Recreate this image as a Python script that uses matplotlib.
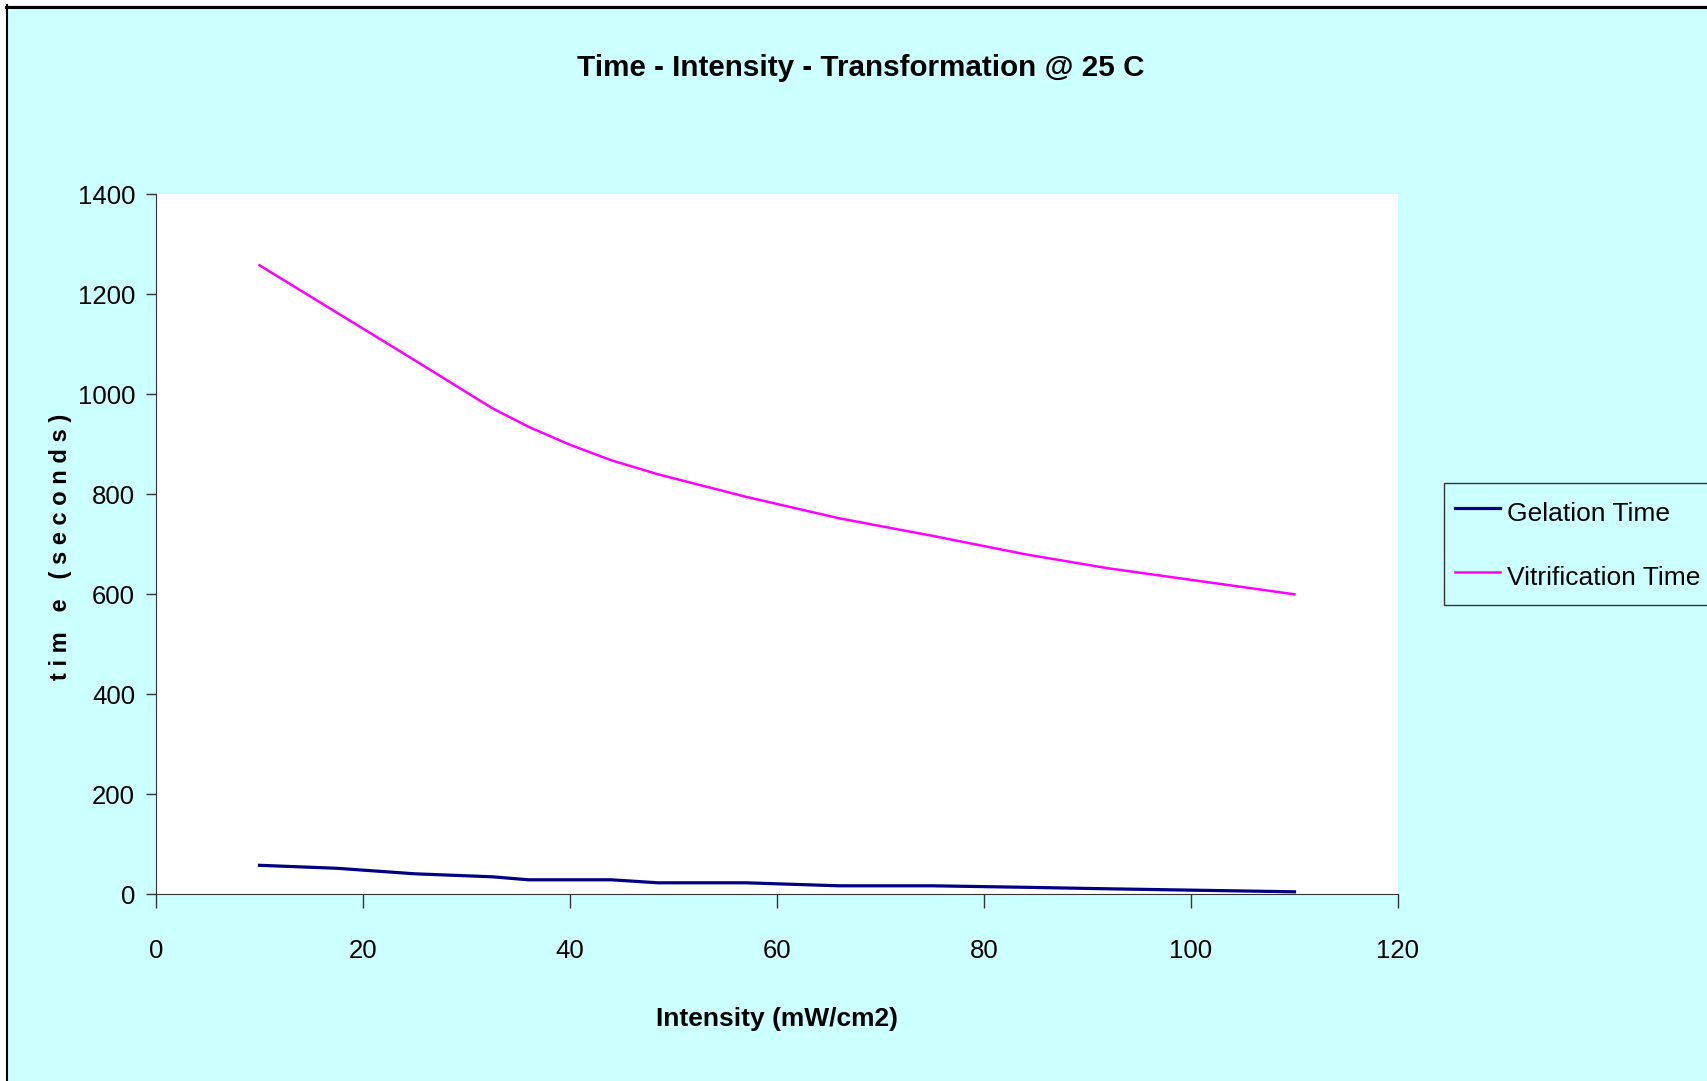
import matplotlib
matplotlib.use("Agg")
import matplotlib.pyplot as plt
from matplotlib.patches import Rectangle
from matplotlib.lines import Line2D

# intensity (mW/cm2)
intensity = [10, 17.5, 25, 32.5, 36, 40, 44, 48.5, 57, 66, 75, 84, 92, 101, 110]
gelation = [58, 52, 41, 35, 29, 29, 29, 23, 23, 17, 17, 14, 11, 8, 5]
vitrification = [1258, 1163, 1068, 972, 935, 899, 868, 840, 795, 752, 717, 680, 652, 626, 600]

xticks = [0, 20, 40, 60, 80, 100, 120]
yticks = [0, 200, 400, 600, 800, 1000, 1200, 1400]

plt.rcParams['font.family'] = ['Liberation Sans', 'DejaVu Sans']

W, H = 1707, 1081
fig = plt.figure(figsize=(W / 100, H / 100), dpi=100)
fig.patch.set_facecolor('white')

# cyan chart area with black border on top and left
fig.patches.append(Rectangle((6 / W, 0), 1, 1 - 5 / H, transform=fig.transFigure,
                             facecolor='#CCFFFF', edgecolor='none', zorder=-10))
fig.lines.append(Line2D([6 / W, 1], [1 - 6.5 / H, 1 - 6.5 / H], transform=fig.transFigure,
                        color='black', lw=2.2))
fig.lines.append(Line2D([7 / W, 7 / W], [0, 1 - 5 / H], transform=fig.transFigure,
                        color='black', lw=1.5))

ax = fig.add_axes([156 / W, 1 - 894.3 / H, (1398 - 156) / W, 700 / H])
ax.set_facecolor('white')

ax.plot(intensity, gelation, color='#000080', lw=2.3, label='Gelation Time')
ax.plot(intensity, vitrification, color='#FF00FF', lw=1.8, label='Vitrification Time')

ax.set_xlim(0, 120)
ax.set_ylim(0, 1400)
ax.set_xticks(xticks)
ax.set_yticks(yticks)
ax.tick_params(labelsize=18.5, width=1, direction='out', color='#333333')
ax.tick_params(axis='y', length=7, pad=8)
ax.tick_params(axis='x', length=10, pad=22)

for s in ['top', 'right']:
    ax.spines[s].set_visible(False)
for s in ['left', 'bottom']:
    ax.spines[s].set_color('#333333')

fig.text((156 + 1398) / 2 / W, 1 - 1019 / H, 'Intensity (mW/cm2)', ha='center', va='center',
         fontsize=19, fontweight='bold')
fig.text(60 / W, 1 - 547 / H, 't i m   e   ( s e c o n d s )', ha='center', va='center',
         rotation=90, fontsize=17, fontweight='bold')

fig.text(0.504, 1 - 67.5 / H, 'Time - Intensity - Transformation @ 25 C', ha='center',
         va='center', fontsize=21.3, fontweight='bold')

leg = ax.legend(loc='upper left', bbox_to_anchor=(1443.6 / W, 1 - 483.4 / H),
                bbox_transform=fig.transFigure, fontsize=19,
                frameon=True, fancybox=False, edgecolor='#333333', facecolor='#CCFFFF',
                framealpha=1, handlelength=1.7, handleheight=1.7, borderpad=0.42,
                labelspacing=1.07, handletextpad=0.3, borderaxespad=0)
leg.get_frame().set_linewidth(1)

fig.savefig('out.png', dpi=100, facecolor=fig.get_facecolor())
